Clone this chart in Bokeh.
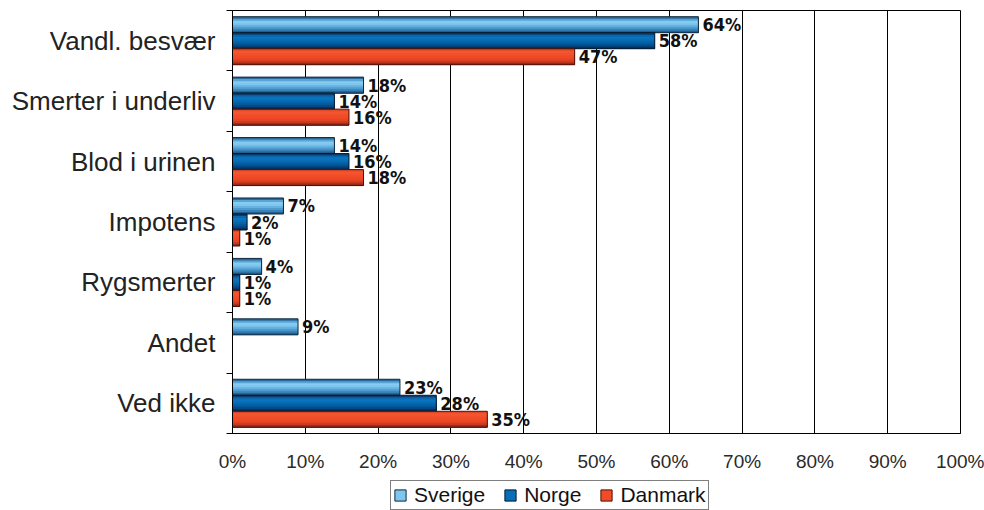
from bokeh.plotting import figure
from bokeh.layouts import column
from bokeh.models import (Range1d, FixedTicker, LinearAxis, Grid, Legend, LegendItem,
                          ColumnDataSource, PrintfTickFormatter)
from bokeh.core.properties import value
from bokeh.embed import file_html
from bokeh.resources import INLINE

# --- data -------------------------------------------------------------------
categories = ["Vandl. besvær", "Smerter i underliv", "Blod i urinen", "Impotens",
              "Rygsmerter", "Andet", "Ved ikke"]
series_names = ["Sverige", "Norge", "Danmark"]
sverige = [64, 18, 14, 7, 4, 9, 23]
norge = [58, 14, 16, 2, 1, None, 28]
danmark = [47, 16, 18, 1, 1, None, 35]
x_ticks = list(range(0, 101, 10))

series_values = [sverige, norge, danmark]

# --- styling ------------------------------------------------------------------
# top-to-bottom shading bands for the "cylinder" look of each bar
shades = {
    "Sverige": ["#2b6a98", "#58a4d4", "#86ccf2", "#7ec6ee", "#66b2e0", "#4f9bcf", "#3783b9", "#235e8c"],
    "Norge":   ["#0b3d6c", "#0a67ae", "#0a74bf", "#086eb7", "#0664aa", "#04589c", "#034886", "#02315e"],
    "Danmark": ["#e0482a", "#f5562f", "#f3502c", "#f14b28", "#ee4826", "#e24322", "#c8391d", "#93291a"],
}
edge = {"Sverige": "#10283d", "Norge": "#031a30", "Danmark": "#4a1208"}
swatch_band = 3

label_font = "'Liberation Sans', Arial, sans-serif"
value_font = "'Liberation Sans Narrow', 'DejaVu Sans Condensed', sans-serif"

n = len(categories)
bar_h = 0.265
W = 984
TOP_H = 478
LEG_H = 510 - TOP_H
FRAME_LEFT = 232

p = figure(width=W, height=TOP_H, output_backend="svg", toolbar_location=None,
           x_range=Range1d(0, 100), y_range=Range1d(n - 0.5, -0.5),
           x_axis_type=None, y_axis_type=None,
           min_border_left=FRAME_LEFT, min_border_right=24, min_border_top=10,
           min_border_bottom=TOP_H - 433)
p.outline_line_color = "black"
p.outline_line_width = 1
p.background_fill_color = "white"
p.border_fill_color = "white"

# vertical grid every 10 %
p.add_layout(Grid(dimension=0, ticker=FixedTicker(ticks=x_ticks),
                  grid_line_color="black", grid_line_width=1))

# bottom axis with percentage labels
xaxis = LinearAxis(ticker=FixedTicker(ticks=x_ticks),
                   formatter=PrintfTickFormatter(format="%d%%"))
xaxis.axis_line_color = "black"
xaxis.major_tick_out = 0
xaxis.major_tick_in = 0
xaxis.minor_tick_out = 0
xaxis.major_label_standoff = 17
xaxis.major_label_text_font = label_font
xaxis.major_label_text_font_size = "19px"
xaxis.major_label_text_color = "#2a2a2a"
p.add_layout(xaxis, "below")

# left axis: category names at centres, small ticks at the boundaries
yaxis = LinearAxis(ticker=FixedTicker(ticks=list(range(n)),
                                      minor_ticks=[i - 0.5 for i in range(n + 1)]),
                   major_label_overrides={i: c for i, c in enumerate(categories)})
yaxis.axis_line_color = "black"
yaxis.major_tick_out = 0
yaxis.major_tick_in = 0
yaxis.minor_tick_out = 6
yaxis.minor_tick_in = 0
yaxis.minor_tick_line_color = "black"
yaxis.major_label_standoff = 11
yaxis.major_label_text_font = label_font
yaxis.major_label_text_font_size = "26px"
yaxis.major_label_text_color = "#222222"
p.add_layout(yaxis, "left")

# strip underneath that carries the legend
leg = figure(width=W, height=LEG_H, output_backend="svg", toolbar_location=None,
             x_range=Range1d(0, 1), y_range=Range1d(0, 1),
             x_axis_type=None, y_axis_type=None,
             min_border_left=0, min_border_right=0, min_border_top=0, min_border_bottom=0)
leg.outline_line_color = None
leg.grid.visible = False
leg.background_fill_color = "white"
leg.border_fill_color = "white"

legend_items = []
for k, (name, vals) in enumerate(zip(series_names, series_values)):
    offset = (k - 1) * bar_h
    idx = [i for i, v in enumerate(vals) if v is not None]
    vs = [vals[i] for i in idx]
    centers = [i + offset for i in idx]
    tops = [c - bar_h / 2 for c in centers]
    bottoms = [c + bar_h / 2 for c in centers]

    nb = len(shades[name])
    for j, col in enumerate(shades[name]):
        b_top = [t + j * bar_h / nb for t in tops]
        src = ColumnDataSource(dict(
            y=[(a + b) / 2 for a, b in zip(b_top, bottoms)],
            h=[b - a for a, b in zip(b_top, bottoms)],
            right=vs,
        ))
        p.hbar(y="y", height="h", left=0, right="right", source=src,
               fill_color=col, line_color=None)

    outline_src = ColumnDataSource(dict(y=centers, right=vs))
    p.hbar(y="y", height=bar_h, left=0, right="right", source=outline_src,
           fill_color=None, line_color=edge[name], line_width=1)

    text_src = ColumnDataSource(dict(x=vs, y=centers, t=[f"{v}%" for v in vs]))
    p.text(x="x", y="y", text="t", source=text_src, x_offset=4,
           text_align="left", text_baseline="middle",
           text_font=value(value_font), text_font_style="bold",
           text_font_size="18px", text_color="#111111")

    # legend swatch for this series: a placeholder bar with no drawable extent
    sw = leg.hbar(y=[float("nan")], height=1, left=[float("nan")], right=[float("nan")],
                  fill_color=shades[name][swatch_band], line_color=edge[name], line_width=1)
    legend_items.append(LegendItem(label=name, renderers=[sw]))

# the strip's frame is aligned with the chart frame above, so x is measured from there
legend = Legend(items=legend_items, orientation="horizontal", location=(390 - FRAME_LEFT, 0),
                glyph_width=14, glyph_height=14, label_standoff=7, spacing=18,
                padding=2, margin=0,
                border_line_color="black", border_line_width=1,
                background_fill_color="white", background_fill_alpha=1,
                label_text_font=label_font, label_text_font_size="21px",
                label_text_color="#111111")
leg.add_layout(legend)

layout = column(p, leg, spacing=0)
open("out.html", "w").write(file_html(layout, INLINE))
